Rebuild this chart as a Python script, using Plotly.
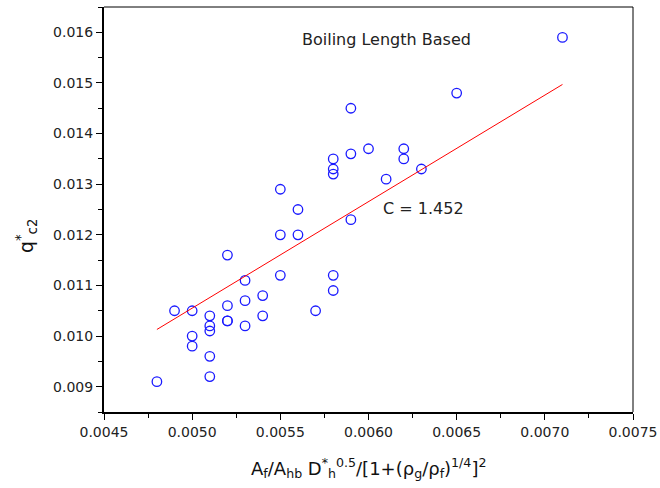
import plotly.graph_objects as go

x_vals = [0.0048, 0.0049, 0.0050, 0.0050, 0.0050, 0.0051, 0.0051, 0.0051, 0.0051, 0.0051,
          0.0052, 0.0052, 0.0052, 0.0052, 0.0053, 0.0053, 0.0053, 0.0054, 0.0054,
          0.0055, 0.0055, 0.0055, 0.0056, 0.0056, 0.0057,
          0.0058, 0.0058, 0.0058, 0.0058, 0.0058,
          0.0059, 0.0059, 0.0059, 0.0060, 0.0061, 0.0062, 0.0062, 0.0063, 0.0065, 0.0071]
y_vals = [0.0091, 0.0105, 0.0105, 0.0100, 0.0098, 0.0104, 0.0102, 0.0101, 0.0096, 0.0092,
          0.0116, 0.0106, 0.0103, 0.0103, 0.0111, 0.0107, 0.0102, 0.0108, 0.0104,
          0.0129, 0.0120, 0.0112, 0.0125, 0.0120, 0.0105,
          0.0135, 0.0133, 0.0132, 0.0112, 0.0109,
          0.0145, 0.0136, 0.0123, 0.0137, 0.0131, 0.0137, 0.0135, 0.0133, 0.0148, 0.0159]

fit_x = [0.0048, 0.0071]
fit_y = [0.01013, 0.01497]

x_ticks = [0.0045, 0.0050, 0.0055, 0.0060, 0.0065, 0.0070, 0.0075]
x_labels = ["0.0045", "0.0050", "0.0055", "0.0060", "0.0065", "0.0070", "0.0075"]
y_ticks = [0.009, 0.010, 0.011, 0.012, 0.013, 0.014, 0.015, 0.016]
y_labels = ["0.009", "0.010", "0.011", "0.012", "0.013", "0.014", "0.015", "0.016"]

FONT = "DejaVu Sans, sans-serif"

fig = go.Figure()
fig.add_trace(go.Scatter(x=x_vals, y=y_vals, mode="markers",
                         marker=dict(symbol="circle-open", size=9.5, color="#1a1aff",
                                     line=dict(width=1.3, color="#1a1aff")),
                         showlegend=False, cliponaxis=False))
fig.add_trace(go.Scatter(x=fit_x, y=fit_y, mode="lines",
                         line=dict(color="#ff0000", width=1), showlegend=False))

axis_common = dict(showgrid=False, zeroline=False, showline=True, linecolor="black",
                   linewidth=2, ticks="outside", ticklen=6, tickwidth=1.2, tickcolor="black",
                   tickfont=dict(family=FONT, size=14, color="#222"), mirror=False,
                   automargin=False)

fig.update_xaxes(range=[0.0045, 0.0075], tickvals=x_ticks, ticktext=x_labels,
                 minor=dict(ticks="outside", ticklen=4, tickwidth=1, tickcolor="black", dtick=0.00025,
                            tick0=0.0045),
                 **axis_common)
fig.update_yaxes(range=[0.0085, 0.0165], tickvals=y_ticks, ticktext=y_labels,
                 minor=dict(ticks="outside", ticklen=4, tickwidth=1, tickcolor="black", dtick=0.0005,
                            tick0=0.0085),
                 **axis_common)

fig.add_shape(type="line", xref="paper", yref="paper", x0=0, x1=1, y0=1, y1=1,
              line=dict(color="black", width=1))
fig.add_shape(type="line", xref="paper", yref="paper", x0=1, x1=1, y0=0, y1=1,
              line=dict(color="black", width=1))

fig.add_annotation(x=0.00561, y=0.01585, xref="x", yref="y", text="Boiling Length Based",
                   showarrow=False, xanchor="left", yanchor="middle",
                   font=dict(family=FONT, size=16, color="#222"))
fig.add_annotation(x=0.00607, y=0.01252, xref="x", yref="y", text="C = 1.452",
                   showarrow=False, xanchor="left", yanchor="middle",
                   font=dict(family=FONT, size=16, color="#222"))

fig.add_annotation(xref="paper", yref="paper", x=0.5, y=-0.138, xanchor="center", yanchor="middle",
                   text="A<sub>f</sub>/A<sub>hb</sub> D<sup>*</sup><sub>h</sub><sup>0.5</sup>/[1+(ρ<sub>g</sub>/ρ<sub>f</sub>)<sup>1/4</sup>]<sup>2</sup>",
                   showarrow=False, font=dict(family=FONT, size=18, color="#111"))
fig.add_annotation(xref="paper", yref="paper", x=-0.145, y=0.435, xanchor="center", yanchor="middle",
                   textangle=-90,
                   text="q<sup>*</sup><sub>c2</sub>",
                   showarrow=False, font=dict(family=FONT, size=19, color="#111"))

fig.update_layout(width=660, height=488, margin=dict(l=104, r=27, t=7, b=76, autoexpand=False),
                  plot_bgcolor="white", paper_bgcolor="white")

fig.write_html("out.html")
